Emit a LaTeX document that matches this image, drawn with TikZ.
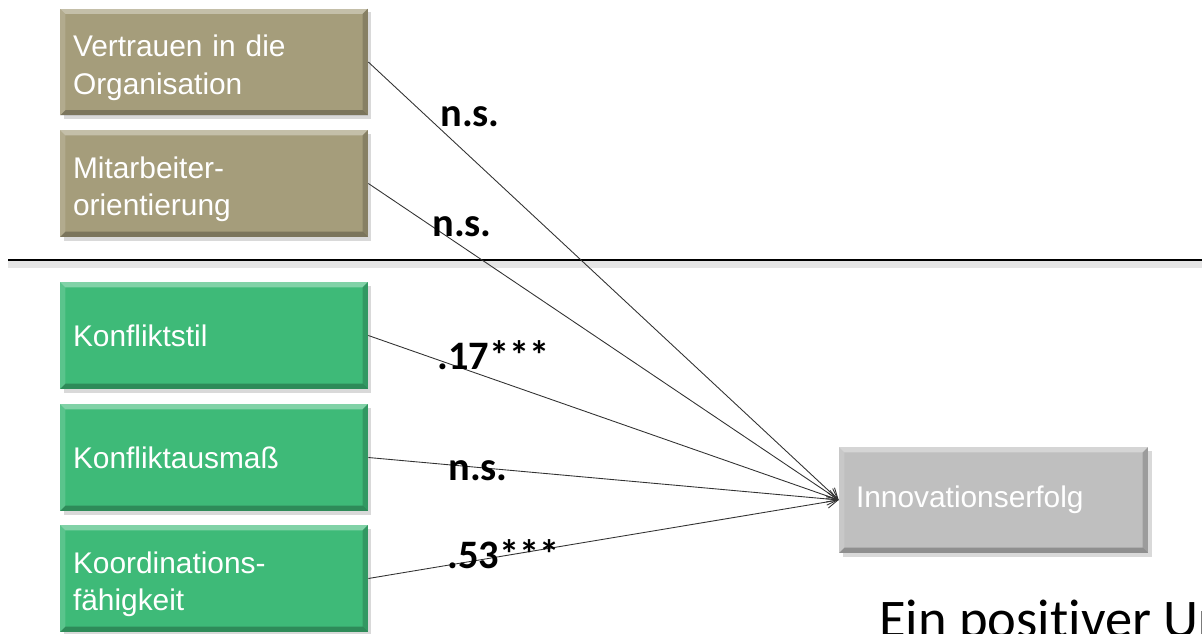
\documentclass[tikz,border=0pt]{standalone}
\usepackage{fontspec}
\setmainfont{Liberation Sans}
\newfontfamily\calfont[Ligatures=NoCommon, Contextuals=NoAlternate]{Carlito}
\usetikzlibrary{arrows.meta, shadows}
\definecolor{olivebox}{RGB}{165,157,123}
\definecolor{greenbox}{RGB}{62,186,120}
\definecolor{greybox}{RGB}{191,191,191}
\definecolor{linegrey}{RGB}{50,50,50}
\tikzset{
    bevel/.style={path picture={
        \fill[white, opacity=0.35] (path picture bounding box.north west) -- (path picture bounding box.north east)
            -- ([shift={(-3pt,-3pt)}]path picture bounding box.north east) -- ([shift={(3pt,-3pt)}]path picture bounding box.north west) -- cycle;
        \fill[white, opacity=0.15] (path picture bounding box.north west) -- (path picture bounding box.south west)
            -- ([shift={(3pt,3pt)}]path picture bounding box.south west) -- ([shift={(3pt,-3pt)}]path picture bounding box.north west) -- cycle;
        \fill[black, opacity=0.18] (path picture bounding box.north east) -- (path picture bounding box.south east)
            -- ([shift={(-3pt,3pt)}]path picture bounding box.south east) -- ([shift={(-3pt,-3pt)}]path picture bounding box.north east) -- cycle;
        \fill[black, opacity=0.25] (path picture bounding box.south west) -- (path picture bounding box.south east)
            -- ([shift={(-3pt,3pt)}]path picture bounding box.south east) -- ([shift={(3pt,3pt)}]path picture bounding box.south west) -- cycle;
    }},
    box/.style={bevel, drop shadow={opacity=0.3, shadow xshift=2pt, shadow yshift=-2pt},
        minimum width=6.16cm, minimum height=2.14cm, text width=5.64cm, inner xsep=0.26cm,
        align=left, text=white, font=\fontsize{17}{21.2}\selectfont},
    twoline/.style={execute at begin node={\rule{0pt}{0.66cm}}},
    factor/.style={box, fill=olivebox},
    conflict/.style={box, fill=greenbox},
    outcome/.style={box, fill=greybox, minimum width=6.18cm, minimum height=2.12cm, text width=5.5cm, inner xsep=0.34cm},
    coef/.style={anchor=base west, inner sep=0pt, font=\calfont\bfseries\fontsize{23}{27}\selectfont},
    path/.style={draw=linegrey, line width=0.5pt, -{Straight Barb[length=6pt, width=7pt]}}
}
\begin{document}
\begin{tikzpicture}[x=0.02cm, y=-0.02cm]
    \useasboundingbox (0,0) rectangle (1202,634);

    \node[factor, twoline] (vert) at (214,62) {Vertrauen in die\\Organisation};
    \node[factor, twoline] (mita) at (214,183.5) {Mitarbeiter-\\orientierung};
    \node[conflict] (stil) at (214,335.5) {Konfliktstil};
    \node[conflict] (ausm) at (214,457.5) {Konfliktausmaß};
    \node[conflict, twoline] (koord) at (214,578.5) {Koordinations-\\fähigkeit};
    \node[outcome] (inno) at (993.5,500) {Innovationserfolg};

    \coordinate (sepL) at (8,260);
    \coordinate (sepR) at (1202,260);
    \draw[black!10, line width=4pt] ([yshift=-2.5pt]sepL) -- ([yshift=-2.5pt]sepR);
    \draw[black, line width=1.4pt] (sepL) -- (sepR);

    \draw[path] (vert.east) -- (inno.west);
    \draw[path] (mita.east) -- (inno.west);
    \draw[path] (stil.east) -- (inno.west);
    \draw[path] (ausm.east) -- (inno.west);
    \draw[path] (koord.east) -- (inno.west);

    \node[coef] (c1) at (440,127) {n.s.};
    \node[coef] (c2) at (432,237) {n.s.};
    \node[coef] (c3) at (437,370) {.17***};
    \node[coef] (c4) at (448,480) {n.s.};
    \node[coef] (c5) at (447,568) {.53***};

    \node[anchor=base west, inner sep=0pt, font=\calfont\fontsize{31}{36}\selectfont] (note) at (879,637) {Ein positiver Ur};
\end{tikzpicture}
\end{document}
